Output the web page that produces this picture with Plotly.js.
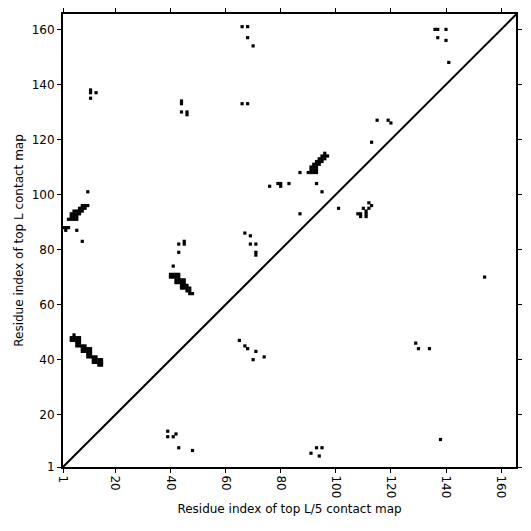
<!DOCTYPE html>
<html>
<head>
<meta charset="utf-8">
<script src="https://cdn.plot.ly/plotly-3.0.1.min.js"></script>
<style>html,body{margin:0;padding:0;background:#fff;}#chart{width:531px;height:531px;}</style>
</head>
<body>
<div id="chart"></div>
<script>
// Sequence length and tick labels
const seqLen = 166;
const tickVals = [1, 20, 40, 60, 80, 100, 120, 140, 160];
const tickText = ["1", "20", "40", "60", "80", "100", "120", "140", "160"];

// Contacts above the diagonal (top L contact map): residue i (x), residue j (y)
const topL_i = [
  5, 4,5,6,7, 4,5,6,7, 6,7, 6,7,8,9, 8,9,10,11, 8,9,10,11, 10,11, 10,11,12,13, 12,13,14,15, 12,13,14,15, 14,15,
  40,41,42,43, 40,41,42,43, 42,43,44,45, 42,43,44,45, 44,45,46, 44,45,46,47, 46,47, 47,48,
  8,9,10, 7,8,9, 5,6,7,8, 4,5,6,7, 4,5,6, 3,4,5,6,
  1,2,3, 2, 6, 8, 10,
  43, 45, 45, 43, 41,
  67, 69, 69, 71, 71, 71, 87, 95, 93, 83, 79, 80, 80, 76, 87,
  96, 95,96,97, 94,95,96, 93,94,95, 92,93,94, 91,92,93, 91,92,93, 90,91,92,93,
  113, 115, 119, 120, 66, 68, 70, 68, 66, 68,
  11, 11, 13, 11, 44, 44, 44, 46, 46,
  136, 137, 140, 137, 140, 141
];
const topL_j = [
  49, 48,48,48,48, 47,47,47,47, 46,46, 45,45,45,45, 44,44,44,44, 43,43,43,43, 42,42, 41,41,41,41, 40,40,40,40, 39,39,39,39, 38,38,
  71,71,71,71, 70,70,70,70, 69,69,69,69, 68,68,68,68, 67,67,67, 66,66,66,66, 65,65, 64,64,
  96,96,96, 95,95,95, 94,94,94,94, 93,93,93,93, 92,92,92, 91,91,91,91,
  88,88,88, 87, 87, 83, 101,
  82, 82, 83, 79, 74,
  86, 85, 82, 82, 78, 79, 93, 101, 104, 104, 104, 104, 103, 103, 108,
  115, 114,114,114, 113,113,113, 112,112,112, 111,111,111, 110,110,110, 109,109,109, 108,108,108,108,
  119, 127, 127, 126, 133, 133, 154, 157, 161, 161,
  137, 138, 137, 135, 133, 134, 130, 129, 130,
  160, 160, 160, 157, 156, 148
];

// Contacts below the diagonal (top L/5 contact map)
const topL5_i = [
  39, 39, 41, 42, 43, 48,
  65, 67, 68, 71, 70, 74,
  91, 93, 95, 94,
  101, 108, 109, 109, 111, 111, 111, 110, 112, 112, 113,
  129, 130, 134, 138, 154
];
const topL5_j = [
  14, 12, 12, 13, 8, 7,
  47, 45, 44, 43, 40, 41,
  6, 8, 8, 5,
  95, 93, 93, 92, 92, 93, 94, 95, 95, 97, 96,
  46, 44, 44, 11, 70
];

// Diagonal reference line
const diagX = [1, seqLen];
const diagY = [1, seqLen];

const font = {family: "DejaVu Sans, sans-serif", size: 12, color: "#000"};
const cellMarker = {symbol: "square", size: 3.2, color: "#000", line: {width: 0}};

const traces = [
  {type: "scatter", mode: "markers", x: topL_i, y: topL_j, marker: cellMarker,
   hoverinfo: "skip", showlegend: false},
  {type: "scatter", mode: "markers", x: topL5_i, y: topL5_j, marker: cellMarker,
   hoverinfo: "skip", showlegend: false},
  {type: "scatter", mode: "lines", x: diagX, y: diagY,
   line: {color: "#000", width: 2}, hoverinfo: "skip", showlegend: false}
];

const axisCommon = {
  tickmode: "array", tickvals: tickVals, ticktext: tickText,
  ticks: "outside", ticklen: 4, tickwidth: 1, tickcolor: "#000",
  showline: true, linecolor: "#000", linewidth: 2, mirror: "ticks",
  showgrid: false, zeroline: false, tickfont: font, automargin: false,
  ticklabeloverflow: "allow"
};

const layout = {
  width: 531, height: 531,
  margin: {l: 63, r: 15, t: 14, b: 64},
  showlegend: false,
  xaxis: Object.assign({}, axisCommon, {range: [1, 165.4], tickangle: 90,
    title: {text: "Residue index of top L/5 contact map", font: font, standoff: 7}}),
  yaxis: Object.assign({}, axisCommon, {range: [1, 165.6],
    title: {text: "Residue index of top L contact map", font: font, standoff: 5}})
};

Plotly.newPlot("chart", traces, layout, {staticPlot: true});
</script>
</body>
</html>
